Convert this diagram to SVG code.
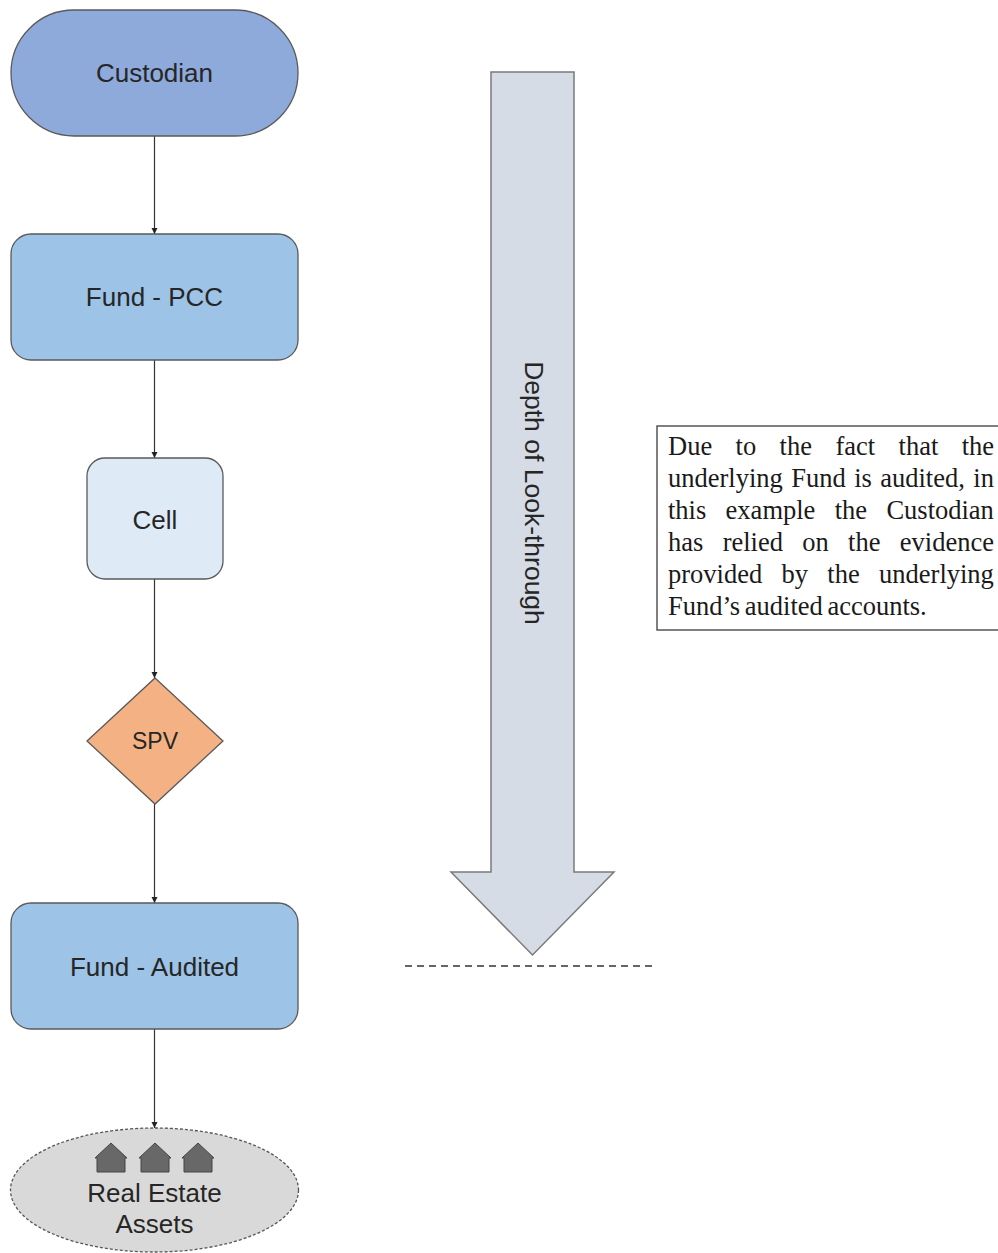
<svg xmlns="http://www.w3.org/2000/svg" width="998" height="1253" viewBox="0 0 998 1253">
<style>
.node{stroke:#5a5a5a;stroke-width:1.3}
.lbl{font-family:"Liberation Sans",Arial,sans-serif;font-size:26px;fill:#262626;text-anchor:middle}
.conn{stroke:#333;stroke-width:1.2;fill:none}
.note{font-family:"Liberation Serif","Times New Roman",serif;font-size:26.5px;fill:#1a1a1a}
</style>
<defs>
<marker id="ah" viewBox="0 0 10 10" refX="10" refY="5" markerWidth="6" markerHeight="7" markerUnits="userSpaceOnUse" orient="auto">
<path d="M0,0 L10,5 L0,10 Z" fill="#222"/>
</marker>
</defs>
<g id="connectors">
<line class="conn" x1="154.5" y1="136" x2="154.5" y2="234" marker-end="url(#ah)"/>
<line class="conn" x1="154.5" y1="360" x2="154.5" y2="458" marker-end="url(#ah)"/>
<line class="conn" x1="154.5" y1="579" x2="154.5" y2="678" marker-end="url(#ah)"/>
<line class="conn" x1="154.5" y1="804" x2="154.5" y2="903" marker-end="url(#ah)"/>
<line class="conn" x1="154.5" y1="1029" x2="154.5" y2="1128" marker-end="url(#ah)"/>
</g>
<g id="custodian">
<rect class="node" x="11" y="10" width="287" height="126" rx="63" fill="#8eaadb"/>
<text class="lbl" x="154.5" y="82">Custodian</text>
</g>
<g id="fund-pcc">
<rect class="node" x="11" y="234" width="287" height="126" rx="20" fill="#9dc3e6"/>
<text class="lbl" x="154.5" y="306">Fund - PCC</text>
</g>
<g id="cell">
<rect class="node" x="87" y="458" width="136" height="121" rx="18" fill="#deebf7"/>
<text class="lbl" x="155" y="529">Cell</text>
</g>
<g id="spv">
<polygon class="node" points="155,678 223,741 155,804 87,741" fill="#f4b183"/>
<text class="lbl" x="155" y="749" style="font-size:23px">SPV</text>
</g>
<g id="fund-audited">
<rect class="node" x="11" y="903" width="287" height="126" rx="20" fill="#9dc3e6"/>
<text class="lbl" x="154.5" y="976">Fund - Audited</text>
</g>
<g id="real-estate">
<ellipse cx="154.5" cy="1190" rx="144" ry="62" fill="#d9d9d9" stroke="#555" stroke-width="1.3" stroke-dasharray="3,2"/>
<g fill="#686868" stroke="#444" stroke-width="1">
<path d="M95,1158 L111,1143 L127,1158 L125,1158 L125,1172 L97,1172 L97,1158 Z"/>
<path d="M139,1158 L155,1143 L171,1158 L169,1158 L169,1172 L141,1172 L141,1158 Z"/>
<path d="M182,1158 L198,1143 L214,1158 L212,1158 L212,1172 L184,1172 L184,1158 Z"/>
</g>
<text class="lbl" x="154.5" y="1202">Real Estate</text>
<text class="lbl" x="154.5" y="1233">Assets</text>
</g>
<g id="depth-arrow">
<polygon points="491,72 574,72 574,872 614,872 532.5,955 451,872 491,872" fill="#d6dce5" stroke="#7a7a7a" stroke-width="1.5"/>
<text class="lbl" transform="translate(525,493) rotate(90)" x="0" y="0" style="font-size:26.5px">Depth of Look-through</text>
</g>
<g id="dashed-line">
<line x1="405" y1="966" x2="653" y2="966" stroke="#333" stroke-width="1.5" stroke-dasharray="7,5"/>
</g>
<g id="note">
<rect x="657" y="426" width="345" height="204" fill="#fff" stroke="#555" stroke-width="1.5"/>
<text class="note" x="668" y="455" word-spacing="16.8">Due to the fact that the</text>
<text class="note" x="668" y="487" word-spacing="1.8">underlying Fund is audited, in</text>
<text class="note" x="668" y="519" word-spacing="12.7">this example the Custodian</text>
<text class="note" x="668" y="551" word-spacing="12.7">has relied on the evidence</text>
<text class="note" x="668" y="583" word-spacing="12.7">provided by the underlying</text>
<text class="note" x="668" y="615" word-spacing="-2">Fund’s audited accounts.</text>
</g>
</svg>
